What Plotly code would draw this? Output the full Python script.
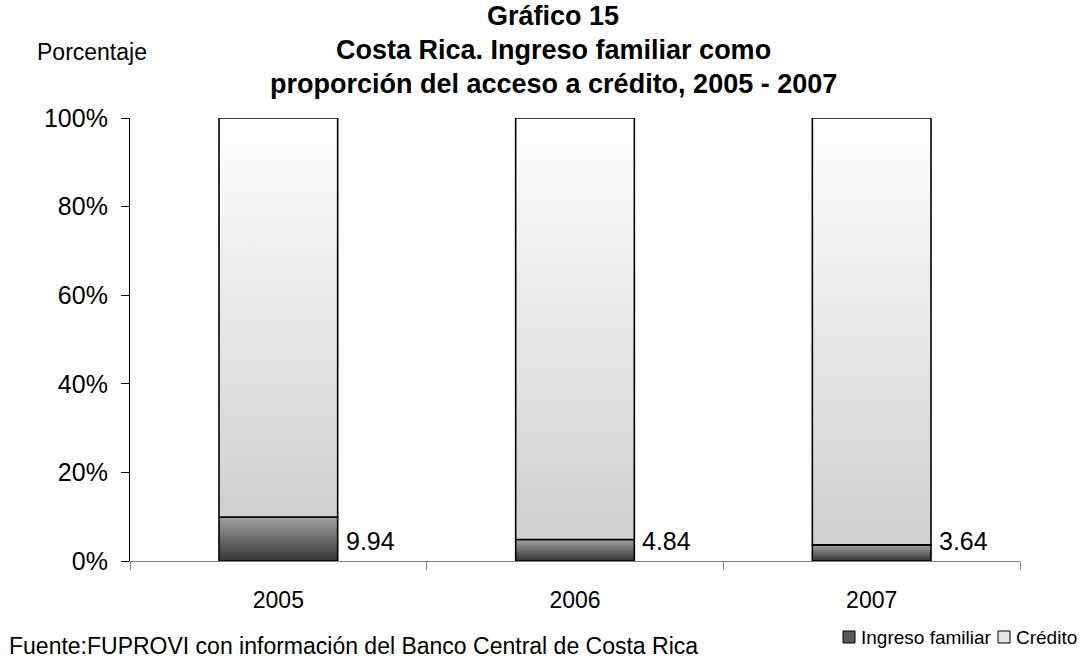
import plotly.graph_objects as go

# Datos
years = ["2005", "2006", "2007"]
ingreso = [9.94, 4.84, 3.64]          # % ingreso familiar
credito = [100 - v for v in ingreso]  # resto hasta 100 %
series_names = ["Ingreso familiar", "Crédito"]
y_ticks = [0, 20, 40, 60, 80, 100]
y_ticklabels = ["0%", "20%", "40%", "60%", "80%", "100%"]

FONT = "Liberation Sans, Arial, sans-serif"
BAR_W = 0.4
ING_SCALE = [[0, "#333333"], [1, "#a3a3a3"]]
CRED_SCALE = [[0, "#cfcfcf"], [1, "#ffffff"]]

# Lienzo y área de trazado (pixeles)
W, H = 1081, 661
L, R, T, B = 130, 61, 118, 100
pw, ph = W - L - R, H - T - B


def px(x):
    return (x - L) / pw


def py(y):
    return 1 - (y - T) / ph


fig = go.Figure()


def add_segment(i, base, value, scale, name):
    x0, x1 = i - BAR_W / 2, i + BAR_W / 2
    top = base + value
    fig.add_trace(go.Scatter(
        x=[x0, x1, x1, x0, x0],
        y=[base, base, top, top, base],
        mode="lines",
        fill="toself",
        fillgradient=dict(type="vertical", colorscale=scale),
        line=dict(color="black", width=1.6),
        name=name,
        showlegend=False,
        hoverinfo="skip",
    ))


for i in range(len(years)):
    add_segment(i, 0, ingreso[i], ING_SCALE, series_names[0])
for i in range(len(years)):
    add_segment(i, ingreso[i], credito[i], CRED_SCALE, series_names[1])

# Etiquetas de valor junto a cada barra
for i, v in enumerate(ingreso):
    fig.add_annotation(
        x=i + BAR_W / 2, y=4.5, text=f"{v:.2f}", showarrow=False,
        xanchor="left", yanchor="middle", xshift=6,
        font=dict(family=FONT, size=25, color="black"),
    )

# Título
title_lines = [
    "Gráfico 15",
    "Costa Rica. Ingreso familiar como",
    "proporción del acceso a crédito, 2005 - 2007",
]
for k, line in enumerate(title_lines):
    fig.add_annotation(
        x=px(553), y=py(16 + 34 * k), xref="paper", yref="paper",
        text=f"<b>{line}</b>", showarrow=False, xanchor="center", yanchor="middle",
        font=dict(family=FONT, size=27, color="black"),
    )

fig.add_annotation(
    x=px(35), y=py(52), xref="paper", yref="paper", text="Porcentaje",
    showarrow=False, xanchor="left", yanchor="middle",
    font=dict(family=FONT, size=23, color="black"),
)
fig.add_annotation(
    x=px(7), y=py(661), xref="paper", yref="paper",
    text="Fuente:FUPROVI con información del Banco Central de Costa Rica",
    showarrow=False, xanchor="left", yanchor="bottom",
    font=dict(family=FONT, size=23, color="black"),
)

# Leyenda
legend_items = [
    (series_names[0], "#5a5a5a", 843),
    (series_names[1], "#e6e6e6", 998),
]
for name, color, x0 in legend_items:
    fig.add_shape(
        type="rect", xref="paper", yref="paper",
        x0=px(x0), x1=px(x0 + 12), y0=py(643), y1=py(631),
        fillcolor=color, line=dict(color="black", width=1),
    )
    fig.add_annotation(
        x=px(x0 + 16), y=py(637), xref="paper", yref="paper", text=name,
        showarrow=False, xanchor="left", yanchor="middle",
        font=dict(family=FONT, size=19, color="black"),
    )

fig.update_layout(
    width=W, height=H,
    margin=dict(l=L, r=R, t=T, b=B),
    paper_bgcolor="white", plot_bgcolor="white",
    font=dict(family=FONT, size=25, color="black"),
    showlegend=False,
    xaxis=dict(
        range=[-0.5, 2.5], tickvals=[0, 1, 2], ticktext=years,
        ticks="", showgrid=False, zeroline=False,
        showline=True, linecolor="#808080", linewidth=1.2,
        ticklabelstandoff=18,
        tickfont=dict(family=FONT, size=23),
        minor=dict(tickvals=[-0.5, 0.5, 1.5, 2.5], ticks="outside", ticklen=8,
                   tickcolor="#808080", tickwidth=1.2, showgrid=False),
        fixedrange=True,
    ),
    yaxis=dict(
        range=[0, 100], tickvals=y_ticks, ticktext=y_ticklabels,
        ticks="outside", ticklen=8, tickcolor="black", tickwidth=1.2,
        showgrid=False, zeroline=False,
        showline=True, linecolor="black", linewidth=1.2,
        ticklabelstandoff=8, fixedrange=True,
    ),
)

fig.write_html("out.html")
